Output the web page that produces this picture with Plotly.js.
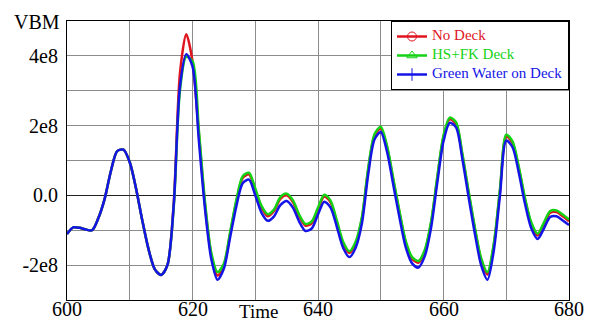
<!DOCTYPE html>
<html>
<head>
<meta charset="utf-8">
<script src="https://cdn.plot.ly/plotly-3.0.1.min.js"></script>
<style>
html,body{margin:0;padding:0;background:#fff;}
#chart{width:595px;height:323px;}
</style>
</head>
<body>
<div id="chart"></div>
<script>
// Time (s)
const time = [600,601,602,603,604,605,606,607,608,609,610,611,612,613,614,615,616,617,618,619,620,
  621,622,623,624,625,626,627,628,629,630,631,632,633,634,635,636,637,638,639,640,
  641,642,643,644,645,646,647,648,649,650,651,652,653,654,655,656,657,658,659,660,
  661,662,663,664,665,666,667,668,669,670,671,672,673,674,675,676,677,678,679,680];

// VBM values in units of 1e8
const greenWater = [-1.11,-0.92,-0.93,-0.98,-1.00,-0.65,-0.10,0.70,1.27,1.31,0.95,
  0.20,-0.72,-1.55,-2.12,-2.28,-2.00,-0.30,3.12,4.05,3.70,
  1.60,-0.40,-1.83,-2.42,-2.10,-1.20,-0.30,0.35,0.45,0.00,
  -0.50,-0.73,-0.60,-0.28,-0.16,-0.35,-0.75,-1.02,-0.95,-0.55,
  -0.18,-0.35,-0.90,-1.50,-1.77,-1.50,-0.80,0.60,1.60,1.82,
  1.25,0.30,-0.65,-1.50,-1.95,-2.07,-1.75,-0.95,0.35,1.55,
  2.08,1.95,1.05,-0.05,-1.10,-2.00,-2.42,-1.60,0.00,1.57,
  1.38,0.65,-0.25,-0.95,-1.25,-0.95,-0.62,-0.60,-0.72,-0.85];

const hsfkDeck = [-1.11,-0.92,-0.93,-0.98,-1.00,-0.65,-0.10,0.70,1.27,1.31,0.95,
  0.20,-0.72,-1.55,-2.12,-2.28,-2.00,-0.35,3.00,3.97,3.85,
  1.90,-0.20,-1.65,-2.20,-1.95,-1.05,-0.12,0.55,0.65,0.20,
  -0.30,-0.54,-0.40,-0.05,0.05,-0.14,-0.55,-0.82,-0.75,-0.35,
  0.02,-0.15,-0.72,-1.33,-1.60,-1.33,-0.62,0.78,1.75,1.97,
  1.42,0.48,-0.47,-1.32,-1.77,-1.88,-1.57,-0.77,0.52,1.72,
  2.23,2.10,1.20,0.12,-0.92,-1.80,-2.20,-1.40,0.18,1.74,
  1.55,0.82,-0.08,-0.78,-1.10,-0.78,-0.45,-0.43,-0.55,-0.69];

const noDeck = [-1.11,-0.92,-0.93,-0.98,-1.00,-0.65,-0.10,0.70,1.27,1.31,0.95,
  0.20,-0.72,-1.55,-2.12,-2.28,-2.00,-0.25,3.50,4.62,3.85,
  1.80,-0.28,-1.72,-2.30,-2.02,-1.10,-0.17,0.50,0.60,0.15,
  -0.35,-0.60,-0.45,-0.10,0.00,-0.19,-0.60,-0.87,-0.80,-0.40,
  -0.03,-0.20,-0.77,-1.38,-1.65,-1.38,-0.67,0.73,1.70,1.92,
  1.37,0.43,-0.52,-1.37,-1.82,-1.93,-1.62,-0.82,0.47,1.67,
  2.18,2.05,1.15,0.07,-0.97,-1.85,-2.27,-1.45,0.13,1.69,
  1.50,0.77,-0.13,-0.83,-1.15,-0.83,-0.50,-0.48,-0.60,-0.74];

const seriesNames = ["No Deck","HS+FK Deck","Green Water on Deck"];
const seriesColors = ["#e0141e","#14d214","#1414e6"];
const seriesSymbols = ["circle-open","triangle-up-open","cross-thin-open"];

const yTickVals = [-2,-1,0,1,2,3,4];
const yTickText = ["-2e8","","0.0","","2e8","","4e8"];
const xTickVals = [600,610,620,630,640,650,660,670,680];
const xTickText = ["600","","620","","640","","660","","680"];

const scale = v => v * 1e8;
const dataSets = [noDeck, hsfkDeck, greenWater];

const traces = [];
dataSets.forEach((arr, i) => {
  traces.push({
    x: time, y: arr.map(scale), type: 'scatter', mode: 'lines',
    line: {color: seriesColors[i], width: 2.5, shape: 'spline', smoothing: 0.8},
    showlegend: false, hoverinfo: 'skip'
  });
});
dataSets.forEach((arr, i) => {
  traces.push({
    x: [null], y: [null], type: 'scatter', mode: 'lines+markers',
    name: '<span style="color:' + seriesColors[i] + ';font-size:15px">' + seriesNames[i] + '</span>',
    line: {color: seriesColors[i], width: 2.5},
    marker: {symbol: seriesSymbols[i], size: 9, color: seriesColors[i], line: {width: 1, color: seriesColors[i]}},
    showlegend: true
  });
});

const fontFam = 'Liberation Serif';

// x tick labels placed on the x axis scale
const xLabelAnnotations = xTickVals
  .map((v, i) => ({v: v, t: xTickText[i]}))
  .filter(d => d.t !== "")
  .map(d => ({
    text: d.t, xref: 'x', yref: 'paper', x: d.v, y: 0, xanchor: 'center', yanchor: 'top',
    showarrow: false, font: {family: fontFam, size: 20, color: '#000'}, yshift: 3, borderpad: 0
  }));

const layout = {
  width: 595, height: 323,
  margin: {l: 67, r: 26, t: 21, b: 23, pad: 0},
  paper_bgcolor: '#fff', plot_bgcolor: '#fff',
  font: {family: fontFam, size: 20, color: '#000'},
  showlegend: true,
  legend: {
    x: 1, y: 1, xanchor: 'right', yanchor: 'top',
    bgcolor: '#fff', bordercolor: '#000', borderwidth: 1,
    font: {family: fontFam, size: 10},
    itemwidth: 30, tracegroupgap: 0
  },
  xaxis: {
    range: [600, 680], tickvals: xTickVals, ticktext: xTickText, showticklabels: false,
    showgrid: true, gridcolor: '#8c8c8c', gridwidth: 1,
    showline: true, linecolor: '#000', linewidth: 1, mirror: true,
    ticks: '', zeroline: false
  },
  yaxis: {
    range: [scale(-3), scale(5)], tickvals: yTickVals.map(scale), ticktext: yTickText,
    showgrid: true, gridcolor: '#8c8c8c', gridwidth: 1,
    showline: true, linecolor: '#000', linewidth: 1, mirror: true,
    zeroline: true, zerolinecolor: '#222', zerolinewidth: 1,
    ticks: '', ticklabelstandoff: 4, tickfont: {family: fontFam, size: 20, color: '#000'}
  },
  annotations: [
    {text: 'VBM', xref: 'paper', yref: 'paper', x: -0.01, y: 1.0, xanchor: 'right', yanchor: 'bottom',
     showarrow: false, font: {family: fontFam, size: 20, color: '#000'}, yshift: -14},
    {text: 'Time', xref: 'x', yref: 'paper', x: 630.5, y: 0, xanchor: 'center', yanchor: 'top',
     showarrow: false, font: {family: fontFam, size: 19, color: '#000'}, yshift: 0, borderpad: 0}
  ].concat(xLabelAnnotations)
};

Plotly.newPlot('chart', traces, layout, {staticPlot: true, displayModeBar: false});
</script>
</body>
</html>
